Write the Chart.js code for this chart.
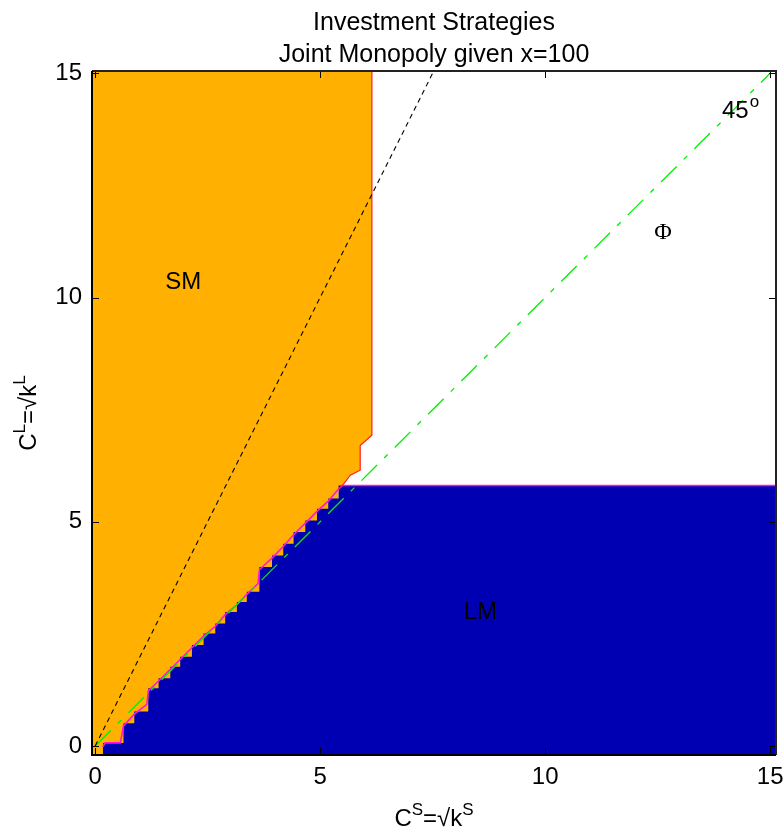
<!DOCTYPE html>
<html>
<head>
<meta charset="utf-8">
<title>Investment Strategies</title>
<script src="https://cdn.jsdelivr.net/npm/chart.js@4.4.1/dist/chart.umd.min.js"></script>
<style>
    html, body { margin: 0; padding: 0; background: #fff; }
    #wrap { width: 784px; height: 831px; }
</style>
</head>
<body>
<div id="wrap"><canvas id="strategyChart"></canvas></div>
<script>
// axis limits and tick labels
const xLimits = [-0.07, 15.13];
const yLimits = [-0.2, 15.05];
const tickValues = [0, 5, 10, 15];

// LM region: upper edge as steps [x where the step starts, height]
const lmSteps = [
    [0.17, -0.2], [0.17, 0.07], [0.63, 0.51], [0.87, 0.77], [1.18, 1.29],
    [1.41, 1.51], [1.67, 1.77], [1.89, 1.99], [2.15, 2.25], [2.41, 2.51],
    [2.67, 2.73], [2.89, 2.99], [3.15, 3.21], [3.37, 3.44], [3.65, 3.99],
    [3.93, 4.25], [4.18, 4.51], [4.41, 4.77], [4.67, 5.03], [4.93, 5.29],
    [5.18, 5.52], [5.41, 5.81], [15.13, 5.81]
];

// contour drawn over the LM edge (magenta)
const lmContour = [
    [0.17, -0.02], [0.22, 0.07], [0.56, 0.07], [0.63, 0.45], [0.87, 0.71],
    [1.15, 0.93], [1.18, 1.23], [1.41, 1.45], [1.67, 1.71], [1.89, 1.93],
    [2.15, 2.19], [2.41, 2.45], [2.67, 2.67], [2.89, 2.93], [3.15, 3.15],
    [3.37, 3.38], [3.62, 3.62], [3.65, 3.93], [3.93, 4.19], [4.18, 4.45],
    [4.41, 4.71], [4.67, 4.97], [4.93, 5.23], [5.18, 5.46], [5.41, 5.73],
    [5.5, 5.81], [15.13, 5.81]
];

// SM region: right / lower edge (red contour)
const smContour = [
    [5.41, 5.73], [5.52, 5.84], [5.67, 6.04], [5.89, 6.15], [5.89, 6.70],
    [6.15, 6.93], [6.15, 15.05]
];

// reference lines
const lineDouble = [[0, 0], [7.5, 15]];
const line45 = [[0, 0], [15, 15]];

// text inside the plot: [text, x, y]
const regionLabels = [
    ['SM', 1.96, 10.33],
    ['LM', 8.56, 2.98]
];
const phiLabel = ['\u03A6', 12.62, 11.45];
const angleLabel = ['45', 'o', 13.93, 14.0];

const titleLines = ['Investment Strategies', 'Joint Monopoly given x=100'];

const FONT = "'Liberation Sans', Arial, Helvetica, sans-serif";

function toPoints(list) {
    return list.map(p => ({ x: p[0], y: p[1] }));
}

// draw text made of normal and raised parts, centred on cx, on baseline baseY
function drawSupText(ctx, parts, cx, baseY, size) {
    const supSize = Math.round(size * 0.72);
    let total = 0;
    parts.forEach(p => {
        ctx.font = (p.sup ? supSize : size) + 'px ' + FONT;
        p.w = ctx.measureText(p.t).width;
        total += p.w;
    });
    let x = cx - total / 2;
    ctx.textAlign = 'left';
    ctx.textBaseline = 'alphabetic';
    parts.forEach(p => {
        ctx.font = (p.sup ? supSize : size) + 'px ' + FONT;
        ctx.fillText(p.t, x, p.sup ? baseY - size * 0.45 : baseY);
        x += p.w;
    });
}

const framePlugin = {
    id: 'matlabFrame',
    afterDraw(chart) {
        const ctx = chart.ctx;
        const a = chart.chartArea;
        const xs = chart.scales.x;
        const ys = chart.scales.y;
        ctx.save();

        // inner ticks
        ctx.strokeStyle = '#000';
        ctx.lineWidth = 1;
        ctx.beginPath();
        tickValues.forEach(v => {
            const px = Math.round(xs.getPixelForValue(v)) + 0.5;
            ctx.moveTo(px, a.bottom); ctx.lineTo(px, a.bottom - 7);
            ctx.moveTo(px, a.top); ctx.lineTo(px, a.top + 7);
            const py = Math.round(ys.getPixelForValue(v)) + 0.5;
            ctx.moveTo(a.left, py); ctx.lineTo(a.left + 7, py);
            ctx.moveTo(a.right, py); ctx.lineTo(a.right - 7, py);
        });
        ctx.stroke();

        // box
        ctx.lineWidth = 2;
        ctx.strokeStyle = '#222';
        ctx.beginPath();
        ctx.moveTo(a.left, a.top); ctx.lineTo(a.right, a.top);
        ctx.lineTo(a.right, a.bottom);
        ctx.stroke();
        ctx.strokeStyle = '#000';
        ctx.beginPath();
        ctx.moveTo(a.left, a.top); ctx.lineTo(a.left, a.bottom);
        ctx.lineTo(a.right, a.bottom);
        ctx.stroke();

        ctx.fillStyle = '#000';

        // title
        const cx = (a.left + a.right) / 2;
        ctx.font = '25px ' + FONT;
        ctx.textAlign = 'center';
        ctx.textBaseline = 'alphabetic';
        ctx.fillText(titleLines[0], cx, 30);
        ctx.fillText(titleLines[1], cx, 62);

        // x axis label
        drawSupText(ctx, [
            { t: 'C' }, { t: 'S', sup: true }, { t: '=\u221Ak' }, { t: 'S', sup: true }
        ], cx, 826, 24);

        // y axis label
        ctx.save();
        ctx.translate(36, (a.top + a.bottom) / 2);
        ctx.rotate(-Math.PI / 2);
        drawSupText(ctx, [
            { t: 'C' }, { t: 'L', sup: true }, { t: '=\u221Ak' }, { t: 'L', sup: true }
        ], 0, 0, 24);
        ctx.restore();

        // region labels
        ctx.font = '24px ' + FONT;
        ctx.textAlign = 'center';
        ctx.textBaseline = 'middle';
        regionLabels.forEach(l => {
            ctx.fillText(l[0], xs.getPixelForValue(l[1]), ys.getPixelForValue(l[2]));
        });
        ctx.font = "24px 'Liberation Serif', 'Times New Roman', serif";
        ctx.fillText(phiLabel[0], xs.getPixelForValue(phiLabel[1]), ys.getPixelForValue(phiLabel[2]));

        // 45 degree label
        ctx.font = '24px ' + FONT;
        ctx.textAlign = 'left';
        ctx.textBaseline = 'alphabetic';
        const ax = xs.getPixelForValue(angleLabel[2]);
        const ay = ys.getPixelForValue(angleLabel[3]);
        ctx.fillText(angleLabel[0], ax, ay);
        const w45 = ctx.measureText(angleLabel[0]).width;
        ctx.font = '17px ' + FONT;
        ctx.fillText(angleLabel[1], ax + w45 + 1, ay - 11);

        ctx.restore();
    }
};

function initChart() {
    const ctx = document.getElementById('strategyChart').getContext('2d');
    new Chart(ctx, {
        type: 'line',
        data: {
            datasets: [{
                label: 'slope 2',
                data: toPoints(lineDouble),
                borderColor: '#000',
                borderWidth: 1.1,
                borderDash: [5, 4],
                pointRadius: 0,
                fill: false
            }, {
                label: '45 degree',
                data: toPoints(line45),
                borderColor: '#00ee00',
                borderWidth: 1.3,
                borderDash: [22, 10, 5, 10],
                pointRadius: 0,
                fill: false
            }, {
                label: 'SM edge',
                data: toPoints(smContour),
                borderColor: '#ff2020',
                borderWidth: 1.2,
                pointRadius: 0,
                fill: false
            }, {
                label: 'LM edge',
                data: toPoints(lmContour),
                borderColor: '#ff19d6',
                borderWidth: 1.6,
                pointRadius: 0,
                fill: false
            }, {
                label: 'LM',
                data: toPoints(lmSteps),
                stepped: 'before',
                borderWidth: 0,
                borderColor: 'rgba(0,0,0,0)',
                backgroundColor: '#0000b2',
                pointRadius: 0,
                fill: 'start'
            }, {
                label: 'SM',
                data: toPoints([[xLimits[0], yLimits[0]], [5.41, yLimits[0]], ...smContour]),
                borderWidth: 0,
                borderColor: 'rgba(0,0,0,0)',
                backgroundColor: '#ffb000',
                pointRadius: 0,
                fill: 'end'
            }]
        },
        options: {
            responsive: true,
            maintainAspectRatio: false,
            animation: false,
            layout: {
                padding: { top: 71, right: 8, left: 0, bottom: 0 }
            },
            plugins: {
                legend: { display: false },
                tooltip: { enabled: false },
                title: { display: false }
            },
            scales: {
                x: {
                    type: 'linear',
                    min: xLimits[0],
                    max: xLimits[1],
                    grid: { display: false, drawTicks: false },
                    border: { display: false },
                    ticks: {
                        stepSize: 5,
                        includeBounds: false,
                        padding: 8,
                        color: '#000',
                        font: { family: FONT, size: 24 },
                        maxRotation: 0
                    },
                    afterFit: scale => {
                        scale.height = 76;
                        scale.paddingLeft = 0;
                        scale.paddingRight = 0;
                    }
                },
                y: {
                    type: 'linear',
                    min: yLimits[0],
                    max: yLimits[1],
                    grid: { display: false, drawTicks: false },
                    border: { display: false },
                    ticks: {
                        stepSize: 5,
                        includeBounds: false,
                        padding: 10,
                        color: '#000',
                        font: { family: FONT, size: 24 }
                    },
                    afterFit: scale => {
                        scale.width = 92;
                        scale.paddingTop = 0;
                        scale.paddingBottom = 0;
                    }
                }
            }
        },
        plugins: [framePlugin]
    });
}

document.addEventListener('DOMContentLoaded', initChart);
</script>
</body>
</html>
